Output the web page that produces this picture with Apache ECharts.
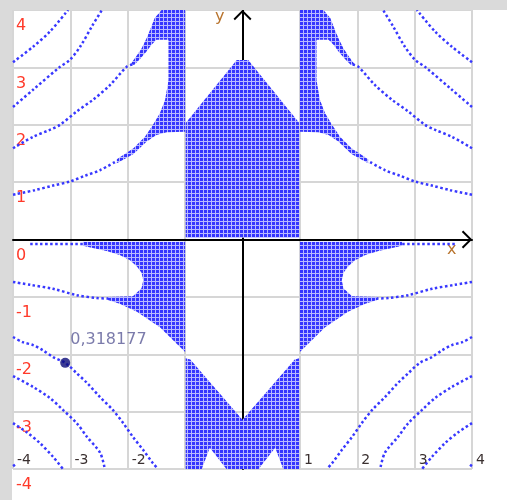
<!DOCTYPE html>
<html>
<head>
<meta charset="utf-8">
<script src="https://cdn.jsdelivr.net/npm/echarts@6/dist/echarts.min.js"></script>
<style>
  html, body { margin: 0; padding: 0; background: #dadada; }
  #chart { position: absolute; left: 12px; top: 10px; width: 495px; height: 490px; background: #fff; }
</style>
</head>
<body>
<div id="chart"></div>
<script>
// tick values / labels
var ticks = [-4, -3, -2, -1, 0, 1, 2, 3, 4];
var xTickLabels = ['-4', '-3', '-2', '-1', '0', '1', '2', '3', '4'];
var yTickLabels = ['-4', '-3', '-2', '-1', '0', '1', '2', '3', '4'];

// filled regions (left wings get mirrored to the right side)
var wingTopLeft = [[-1.41,4.0],[-1.0,4.0],[-1.0,1.88],[-1.32,1.87],[-1.50,1.82],[-1.67,1.71],[-1.90,1.49],[-2.19,1.33],
  [-2.19,1.40],[-1.90,1.59],[-1.70,1.79],[-1.56,2.00],[-1.44,2.20],[-1.35,2.43],[-1.31,2.66],[-1.29,2.78],
  [-1.29,3.48],[-1.50,3.48],[-1.59,3.39],[-1.68,3.27],[-1.79,3.14],[-1.89,3.04],
  [-1.95,3.06],[-1.86,3.18],[-1.76,3.33],[-1.67,3.51],[-1.60,3.68],[-1.53,3.86]];
var wingLowLeft = [[-2.78,-0.04],[-1.0,-0.04],[-1.0,-1.96],[-1.44,-1.53],[-1.84,-1.26],[-2.14,-1.12],[-2.36,-1.05],
  [-2.36,-1.0],[-1.91,-0.99],[-1.76,-0.85],[-1.73,-0.71],[-1.76,-0.58],[-1.84,-0.47],[-1.96,-0.36],
  [-2.14,-0.27],[-2.37,-0.20],[-2.61,-0.15],[-2.78,-0.11]];
var house = [[-0.99,0.03],[-0.99,2.03],[-0.1,3.13],[0.1,3.13],[0.99,2.03],[0.99,0.03]];
var valley = [[-0.99,-2.07],[-0.91,-2.09],[0,-3.14],[0.91,-2.09],[0.99,-2.07],[0.99,-4.0],[0.71,-4.0],[0.57,-3.63],
  [0.28,-4.0],[-0.28,-4.0],[-0.57,-3.63],[-0.71,-4.0],[-0.99,-4.0]];

// thin dotted curves, left half (mirrored too)
var curveA = [[-4.0,3.09],[-3.65,3.36],[-3.36,3.62],[-3.04,4.0]];
var curveB = [[-4.0,2.31],[-3.65,2.61],[-3.18,3.01],[-3.01,3.13],[-2.83,3.36],[-2.61,3.74],[-2.45,4.0]];
var curveC = [[-4.0,1.59],[-3.65,1.79],[-3.36,1.91],[-3.18,2.0],[-2.89,2.23],[-2.60,2.44],[-2.31,2.69],[-2.02,3.01],[-1.92,3.05]];
var curveD = [[-4.0,0.78],[-3.62,0.86],[-3.30,0.94],[-3.01,1.01],[-2.75,1.11],[-2.48,1.21],[-2.19,1.37]];
var tailTop = [[-3.70,-0.08],[-2.75,-0.08]];
var tailLow = [[-4.0,-0.74],[-3.70,-0.79],[-3.30,-0.86],[-2.89,-0.97],[-2.54,-1.02],[-2.34,-1.03]];
var curveE = [[-4.0,-1.70],[-3.83,-1.79],[-3.65,-1.84],[-3.48,-1.93],[-3.30,-2.05],[-3.09,-2.15],[-2.89,-2.33],[-2.71,-2.50],
  [-2.48,-2.75],[-2.26,-2.97],[-2.08,-3.20],[-1.91,-3.44],[-1.73,-3.67],[-1.56,-3.90],[-1.47,-4.0]];
var curveF = [[-4.0,-2.38],[-3.65,-2.57],[-3.36,-2.76],[-3.13,-2.97],[-2.89,-3.20],[-2.71,-3.44],[-2.48,-3.72],[-2.40,-4.0]];
var curveG = [[-4.0,-3.20],[-3.76,-3.36],[-3.53,-3.55],[-3.30,-3.79],[-3.13,-4.0]];
var curveH = [[-4.0,-3.95],[-3.93,-3.90]];

// marked point
var markerPoint = [-3.09, -2.15];
var markerText = '0,318177';

function mirror(pts) {
  return pts.map(function (p) { return [-p[0], p[1]]; });
}

// blue dot-grid texture like the sampled plot
function makeTexture() {
  var c = document.createElement('canvas');
  c.width = 4; c.height = 4;
  var g = c.getContext('2d');
  g.fillStyle = '#b8b8ff'; g.fillRect(0, 0, 4, 4);
  g.fillStyle = '#3535ff'; g.fillRect(0, 0, 3, 3);
  return c;
}
var texture = { image: makeTexture(), repeat: 'repeat' };

var shapes = [wingTopLeft, mirror(wingTopLeft), wingLowLeft, mirror(wingLowLeft), house, valley];
var curves = [curveA, curveB, curveC, curveD, tailTop, tailLow, curveE, curveF, curveG, curveH];

var chevron = 'path://M0,9 L9,0 L18,9 L16.6,10.4 L9,2.8 L1.4,10.4 Z';
var gridColor = '#d6d6d6';

var series = [{
  type: 'custom',
  coordinateSystem: 'cartesian2d',
  silent: true,
  z: 3,
  data: shapes.map(function (s, i) { return [0, 0, i]; }),
  renderItem: function (params, api) {
    var pts = shapes[params.dataIndex].map(function (p) { return api.coord(p); });
    return { type: 'polygon', shape: { points: pts }, style: { fill: texture } };
  }
}];

curves.forEach(function (c) {
  [c, mirror(c)].forEach(function (d) {
    series.push({
      type: 'line',
      data: d,
      showSymbol: false,
      smooth: 0.3,
      silent: true,
      z: 4,
      lineStyle: { color: '#3838ff', width: 2.5, type: [2.5, 2.5] }
    });
  });
});

series.push({
  type: 'scatter',
  data: [markerPoint],
  symbolSize: 10,
  z: 6,
  itemStyle: { color: '#0a0a78' },
  label: {
    show: true,
    formatter: markerText,
    position: [10, -26],
    color: '#5a5a96',
    fontSize: 16,
    fontFamily: 'DejaVu Sans'
  }
});

var chart = echarts.init(document.getElementById('chart'));
chart.setOption({
  animation: false,
  grid: { left: 1, top: 0, right: 35, bottom: 31 },
  xAxis: [{
    type: 'value', min: -4, max: 4, interval: 1,
    axisLine: { show: false, onZero: false },
    axisTick: { show: false },
    splitLine: { show: true, lineStyle: { color: gridColor, width: 2 } },
    axisLabel: {
      inside: true, margin: 2, align: 'left', padding: [0, 0, 0, 4],
      color: '#3a3030', fontSize: 14, fontFamily: 'DejaVu Sans',
      formatter: function (v) { return xTickLabels[ticks.indexOf(v)]; }
    }
  }, {
    type: 'value', min: -4, max: 4,
    axisLine: {
      show: true, onZero: true,
      symbol: ['none', chevron], symbolSize: [18, 10.4], symbolOffset: [0, -5],
      lineStyle: { color: '#000', width: 2 }
    },
    axisTick: { show: false }, axisLabel: { show: false }, splitLine: { show: false }
  }],
  yAxis: [{
    type: 'value', min: -4, max: 4, interval: 1,
    axisLine: { show: false, onZero: false },
    axisTick: { show: false },
    splitLine: { show: true, lineStyle: { color: gridColor, width: 2 } },
    axisLabel: {
      inside: true, margin: 3, verticalAlign: 'top', padding: [8, 0, 0, 0],
      color: '#ff3a2a', fontSize: 16, fontFamily: 'DejaVu Sans',
      formatter: function (v) { return yTickLabels[ticks.indexOf(v)]; }
    }
  }, {
    type: 'value', min: -4, max: 4,
    axisLine: {
      show: true, onZero: true,
      symbol: ['none', chevron], symbolSize: [18, 10.4], symbolOffset: [0, -5],
      lineStyle: { color: '#000', width: 2 }
    },
    axisTick: { show: false }, axisLabel: { show: false }, splitLine: { show: false }
  }],
  graphic: [
    { type: 'text', left: 203, top: -1, style: { text: 'y', fill: '#b8742e', font: '16px "DejaVu Sans"' } },
    { type: 'text', left: 435, top: 232, style: { text: 'x', fill: '#b8742e', font: '16px "DejaVu Sans"' } }
  ],
  series: series
});
</script>
</body>
</html>
